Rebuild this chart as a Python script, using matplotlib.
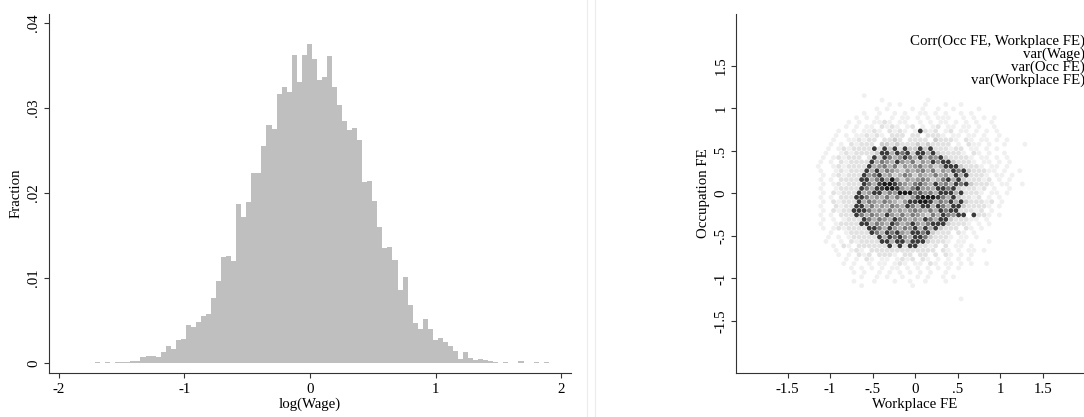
import numpy as np
import matplotlib
matplotlib.use("Agg")
import matplotlib.pyplot as plt
from matplotlib.lines import Line2D

plt.rcParams['font.family'] = ['Liberation Serif', 'DejaVu Serif']

# ---- left panel: histogram of log(Wage), 90 bins ----
bin_lo, bin_hi = -1.71, 1.90
fractions = [
    0.0001, 0, 0.0001, 0, 0.0001, 0.0001, 0.00012, 0.0002, 0.0002, 0.00067,
    0.0008, 0.0008, 0.0007, 0.00125, 0.002, 0.0016, 0.0027, 0.0028, 0.0045, 0.0042,
    0.0048, 0.0055, 0.0058, 0.0076, 0.0097, 0.0125, 0.0126, 0.012, 0.0187, 0.0172,
    0.019, 0.0223, 0.0224, 0.0255, 0.028, 0.0275, 0.0316, 0.0325, 0.0319, 0.0362,
    0.0331, 0.0362, 0.0375, 0.0358, 0.0333, 0.0337, 0.0361, 0.0325, 0.0303, 0.0285,
    0.0274, 0.0277, 0.0262, 0.0213, 0.0214, 0.0191, 0.016, 0.0135, 0.0137, 0.0121,
    0.0086, 0.0101, 0.0068, 0.0047, 0.004, 0.0052, 0.004, 0.0027, 0.003, 0.0025,
    0.002, 0.0014, 0.0005, 0.0013, 0.0006, 0.0004, 0.0005, 0.0004, 0.00025, 0.00012,
    0, 0.0001, 0, 0, 0.0002, 0, 0, 0.0001, 0, 0.0001,
]
hist_xticks = [-2, -1, 0, 1, 2]
hist_xlabels = ["-2", "-1", "0", "1", "2"]
hist_yticks = [0, 0.01, 0.02, 0.03, 0.04]
hist_ylabels = ["0", ".01", ".02", ".03", ".04"]

# ---- right panel: binned scatter of Occupation FE vs Workplace FE ----
# one character per hex cell, row by row from the top; ' ' = empty,
# 1 (lightest) .. 9 (darkest)
shade_rows = [
    "          1",
    "             1        1",
    "               1 1    1   1  1",
    "            1 1    1 1  1  1    1",
    "          1  1  1 1  11 1 1  1 1",
    "        1 1 1  1 11 1 1 111  1 1 1 1",
    "       1 1  1121 11  1 1 11 1 1 1  1",
    "      1 1 11 2121 12 1 12 11 11 1  1",
    "     1  1 1121 2121 18212 12 11 1 1 1",
    "    1 1 112121 222 22 2221 11 11 1  1",
    "    1  112122 2232 2222 32221 21 11 1 1",
    "   1 1 21222 33232223232222 1 211 1  1   1",
    "   1 1212222828382833838222122 11 1 1",
    "  1  1212222388486838848322221 21 1  1",
    "  1 121222 283864586484658322221 11 1 1",
    " 1 1 212222846548546354858832221 11 1 1",
    " 1  121222284564635456453488832221 11 1",
    " 1  12122284846543545646354868322211 1  1",
    "  1 1212228568453465354464538482221 11 1",
    " 1 1 222288468595354565346848322212 1 1",
    "  1 12122286489986546754856486832221 11  1",
    " 1  122228648899854685548868322212 1  1",
    "  1 212228458846599967564888482221 11 1",
    " 1 1 2228864546464358999864832212 1 1",
    "  1 21222846546543588998465848322212 1",
    " 1  2122884645465486488486488322221 1",
    "  1 212288864546454565464868822212 1",
    " 1 1 2228646548546465436486588 8221 1",
    "  1 1 122286465486545486488322211 1",
    " 1  122228846548645854688832221 1 1",
    "  1 1212222886485465848483222 21 1",
    "   1  122228648685488683222 21 1",
    "   1 1 122222848685488632221 11 1",
    "  1  1 21222288488488832221 11    1",
    "    1 21 2222228282882212 2 11 1",
    "    1  121 2222222222222 21 1 11 1",
    "     1 1 212 2221 22 22 2 21 1 1",
    "      1 1 21 11 1212 21 1 1 1 1",
    "      1 1  1 11 121 11 21 11 1 1  1",
    "       1 1 1 1 11 1 1 1 1 1 1",
    "        1 1  1 1 1 1 1 1  1",
    "         1  1 1  1  1 1  1 1",
    "        1   1   1  1  1   1",
    "         1         1",
    "",
    "",
    "                             1",
]
shade_colors = {
    "1": "#f0f0f0", "2": "#e2e2e2", "3": "#cdcdcd", "4": "#b2b2b2",
    "5": "#979797", "6": "#7a7a7a", "7": "#5c5c5c", "8": "#3a3a3a",
    "9": "#191919",
}
fe_ticks = [-1.5, -1, -0.5, 0, 0.5, 1, 1.5]
fe_labels = ["-1.5", "-1", "-.5", "0", ".5", "1", "1.5"]
note_lines = [
    "Corr(Occ FE, Workplace FE)",
    "var(Wage)",
    "var(Occ FE)",
    "var(Workplace FE)",
]

FS = 10.7
AXC = "#333333"

fig = plt.figure(figsize=(10.84, 4.17), dpi=100)


def style_axis(ax):
    for s in ("top", "right"):
        ax.spines[s].set_visible(False)
    for s in ("left", "bottom"):
        ax.spines[s].set_color(AXC)
        ax.spines[s].set_linewidth(0.8)
    ax.tick_params(direction="out", length=3.8, width=0.8, color=AXC,
                   labelsize=FS, pad=2.5)
    ax.tick_params(axis="x", pad=3.5)
    for lab in ax.get_yticklabels():
        lab.set_rotation(90)
        lab.set_va("center")


# left: histogram
ax1 = fig.add_axes([0.0452, 0.1062, 0.4813, 0.8602])
edges = np.linspace(bin_lo, bin_hi, len(fractions) + 1)
ax1.bar(edges[:-1], fractions, width=np.diff(edges), align="edge",
        color="#bfbfbf", edgecolor="none", linewidth=0)
ax1.set_xlim(-2.077, 2.075)
ax1.set_ylim(-0.00114, 0.04106)
ax1.set_xticks(hist_xticks)
ax1.set_xticklabels(hist_xlabels)
ax1.set_yticks(hist_yticks)
ax1.set_yticklabels(hist_ylabels)
ax1.set_xlabel("log(Wage)", fontsize=FS, labelpad=1.5)
ax1.set_ylabel("Fraction", fontsize=FS, labelpad=3)
style_axis(ax1)

# right: binned scatter on a hex lattice
ax2 = fig.add_axes([0.679, 0.1062, 0.330, 0.8602])
dx, x0, y0 = 0.06, -1.2, 1.15
dy = dx * np.sqrt(3) / 2
xs, ys, cs = [], [], []
for j, row in enumerate(shade_rows):
    for i, ch in enumerate(row):
        if ch == " ":
            continue
        xs.append(x0 + i * dx + (j % 2) * dx / 2)
        ys.append(y0 - j * dy)
        cs.append(shade_colors[ch])
ax2.scatter(xs, ys, s=12, c=cs, marker="o", linewidths=0)
ax2.set_xlim(-2.107, 2.1)
ax2.set_ylim(-2.108, 2.11)
ax2.set_xticks(fe_ticks)
ax2.set_xticklabels(fe_labels)
ax2.set_yticks(fe_ticks)
ax2.set_yticklabels(fe_labels)
ax2.set_xlabel("Workplace FE", fontsize=FS, labelpad=1.5)
ax2.set_ylabel("Occupation FE", fontsize=FS, labelpad=3)
style_axis(ax2)
ax2.text(2.0, 1.87, "\n".join(note_lines), ha="right", va="top",
         multialignment="right", fontsize=FS, linespacing=0.95,
         clip_on=False)

# faint panel borders between the two graphs
for xf in (586.7 / 1084, 595 / 1084):
    fig.add_artist(Line2D([xf, xf], [0, 1], transform=fig.transFigure,
                          color="#ececec", linewidth=0.8))

fig.savefig("out.png", dpi=100)
